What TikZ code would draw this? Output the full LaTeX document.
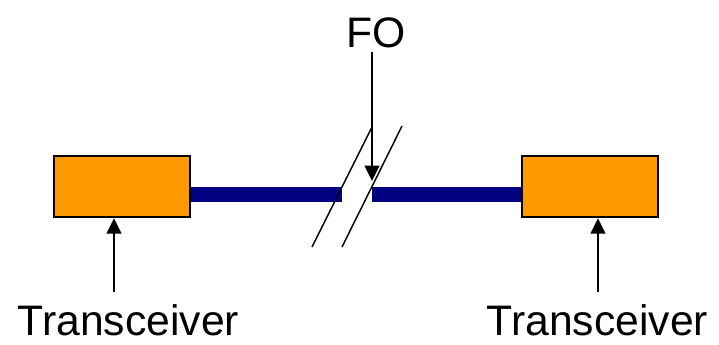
\documentclass[tikz,border=0pt]{standalone}
\usepackage{fontspec}
\setmainfont{Liberation Sans}
\usetikzlibrary{arrows.meta,positioning}
\definecolor{BoxOrange}{RGB}{255,153,0}
\definecolor{CableNavy}{RGB}{0,0,128}
\tikzset{
  trxbox/.style={draw=black,line width=1.8pt,fill=BoxOrange,
    minimum width=102pt,minimum height=45.75pt,inner sep=0pt},
  cablebar/.style={draw=CableNavy,line width=11.25pt,line cap=butt},
  callout/.style={-{Triangle[length=11.5pt,width=11pt]},line width=1.6pt,draw=black},
  breakline/.style={draw=black,line width=1.1pt},
  lbl/.style={font=\fontsize{32}{38}\selectfont,inner sep=1pt,anchor=base},
}
\begin{document}
\begin{tikzpicture}[x=0.75pt,y=-0.75pt]
  \useasboundingbox (0,0) rectangle (719,344);
  % transceivers
  \node[trxbox] (ltrx) at (122,186.5) {};
  \node[trxbox] (rtrx) at (590,186.5) {};
  \node[lbl] (llabel) at (128.5,335) {Transceiver};
  \node[lbl] (rlabel) at (597.5,335) {Transceiver};
  \node[lbl] (folabel) at (376.5,47) {FO};
  % fibre with the break
  \coordinate (cutL) at (342,194.5);
  \coordinate (cutR) at (371.5,194.5);
  \draw[cablebar] (ltrx.east |- cutL) -- (cutL);
  \draw[cablebar] (cutR) -- (rtrx.west |- cutR);
  \coordinate (s1a) at (312,247);
  \coordinate (s1b) at (372,127);
  \coordinate (s2a) at (342,247);
  \coordinate (s2b) at (402,126);
  \draw[breakline] (s1a) -- (s1b);
  \draw[breakline] (s2a) -- (s2b);
  % pointers
  \coordinate (fotip) at (372,181);
  \draw[callout] ([yshift=-2pt]folabel.south -| fotip) -- (fotip);
  \draw[callout] ([yshift=8pt]llabel.north -| 114,0) -- (ltrx.south -| 114,0);
  \draw[callout] ([yshift=8pt]rlabel.north -| 598,0) -- (rtrx.south -| 598,0);
\end{tikzpicture}
\end{document}
